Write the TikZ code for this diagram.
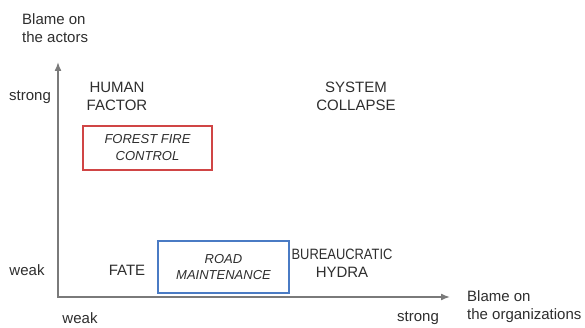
\documentclass[tikz,border=0pt]{standalone}
\usepackage{fontspec}
\setmainfont{Liberation Sans}
\usetikzlibrary{arrows.meta}
\definecolor{txt}{HTML}{2E2E2E}
\definecolor{axisgray}{HTML}{7A7A7A}
\definecolor{redbox}{HTML}{D04545}
\definecolor{bluebox}{HTML}{4A7BC4}
\begin{document}
\begin{tikzpicture}[x=1pt,y=-1pt,
  lbl/.style={text=txt, font=\fontsize{15}{18}\selectfont, align=center, inner sep=0pt},
  boxed/.style={line width=2.5pt, text=txt, font=\fontsize{13}{17}\selectfont\itshape, align=center, inner sep=0pt},
  axisline/.style={draw=axisgray, line width=1.6pt, {Latex[length=9pt,width=7pt]}-{Latex[length=9pt,width=7pt]}}
]
\useasboundingbox[fill=white] (0,0) rectangle (585,328);
\coordinate (O) at (58,297);
\coordinate (Ytip) at (58,62);
\coordinate (Xtip) at (450,297);
\draw[axisline] (Ytip) -- (O) -- (Xtip);

\node[lbl, align=left, anchor=west] (yaxislbl) at (22,28) {Blame on\\the actors};
\node[lbl, align=left, anchor=west] (xaxislbl) at (467,307) {Blame on\\the organizations};
\node[lbl] (ystrong) at (30,97) {strong};
\node[lbl] (yweak) at (27,270) {weak};
\node[lbl] (xweak) at (80,318) {weak};
\node[lbl] (xstrong) at (418,318) {strong};

\node[lbl] (human) at (117,96) {HUMAN\\FACTOR};
\node[lbl] (system) at (356,96) {SYSTEM\\COLLAPSE};
\node[lbl] (fate) at (127,270) {FATE};
\node[lbl] (hydra) at (342,263) {\scalebox{0.86}[1]{BUREAUCRATIC}\\HYDRA};

\node[boxed, draw=redbox, minimum width=129pt, minimum height=44pt] (ffc) at (147.5,148) {FOREST FIRE\\CONTROL};
\node[boxed, draw=bluebox, minimum width=131pt, minimum height=52pt, font=\fontsize{13}{15.5}\selectfont\itshape] (road) at (223.5,267) {ROAD\\MAINTENANCE};
\end{tikzpicture}
\end{document}
